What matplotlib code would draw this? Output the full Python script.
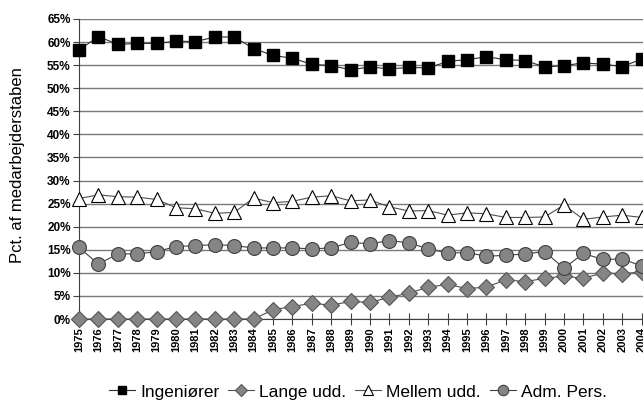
import matplotlib
matplotlib.use("Agg")
import matplotlib.pyplot as plt

years = list(range(1975, 2005))
ingenioerer = [58.3, 61.2, 59.5, 59.7, 59.7, 60.2, 60.1, 61.1, 61.1, 58.6,
               57.1, 56.5, 55.2, 54.9, 54.0, 54.6, 54.2, 54.5, 54.4, 55.8,
               56.2, 56.8, 56.2, 56.0, 54.6, 54.9, 55.5, 55.2, 54.7, 56.3]
lange_udd = [0, 0, 0, 0, 0, 0, 0, 0, 0, 0,
             2.0, 2.7, 3.4, 3.0, 3.8, 3.6, 4.7, 5.6, 6.9, 7.5,
             6.6, 6.9, 8.5, 8.1, 8.8, 9.3, 8.8, 10.0, 9.8, 10.2]
mellem_udd = [26.1, 26.9, 26.5, 26.4, 25.9, 24.1, 23.9, 22.9, 23.1, 26.2,
              25.2, 25.5, 26.4, 26.7, 25.6, 25.8, 24.3, 23.4, 23.5, 22.5,
              23.0, 22.8, 22.0, 22.0, 22.1, 24.7, 21.6, 22.1, 22.5, 22.0]
adm_pers = [15.5, 11.9, 14.1, 14.1, 14.6, 15.7, 15.9, 16.1, 15.9, 15.4,
            15.4, 15.4, 15.2, 15.4, 16.6, 16.3, 17.0, 16.5, 15.2, 14.3,
            14.4, 13.6, 13.8, 14.1, 14.6, 11.0, 14.2, 12.9, 13.0, 11.5]
y_ticks = list(range(0, 70, 5))
labels = ["Ingeniører", "Lange udd.", "Mellem udd.", "Adm. Pers."]

plt.rcParams['font.family'] = ['Liberation Sans', 'DejaVu Sans']

fig = plt.figure(figsize=(6.43, 4.03), dpi=100)
ax = fig.add_axes([79/643, 1-319/403, 1-79/643, 300/403])

line_kw = dict(lw=0.8, clip_on=False)
ax.plot(years, ingenioerer, color='#303030', marker='s', ms=8.5,
        mfc='black', mec='black', label=labels[0], zorder=3, **line_kw)
ax.plot(years, lange_udd, color='#505050', marker='D', ms=8.5,
        mfc='#858585', mec='#555555', mew=0.8, label=labels[1], zorder=4, **line_kw)
ax.plot(years, mellem_udd, color='#505050', marker='^', ms=10.5,
        mfc='white', mec='black', mew=0.8, label=labels[2], zorder=5, **line_kw)
ax.plot(years, adm_pers, color='#404040', marker='o', ms=10,
        mfc='#858585', mec='#404040', mew=0.8, label=labels[3], zorder=6, **line_kw)

ax.set_xlim(1975, 1975 + (643-79)/19.4)
ax.set_ylim(0, 65)
ax.set_yticks(y_ticks)
ax.set_yticklabels([f"{v}%" for v in y_ticks], fontsize=8.5, fontweight='bold')
ax.set_xticks(years)
ax.set_xticklabels([str(y) for y in years], rotation=90, fontsize=8, fontweight='bold')
ax.tick_params(axis='x', direction='inout', length=8, width=0.8, color='#404040', pad=2)
ax.tick_params(axis='y', direction='out', length=4, width=0.8, color='#404040', pad=2)

ax.yaxis.grid(True, color='#7a7a7a', lw=1)
ax.set_axisbelow(True)
for s in ['top', 'right']:
    ax.spines[s].set_visible(False)
ax.spines['left'].set_color('#404040')
ax.spines['bottom'].set_color('#404040')
ax.spines['left'].set_linewidth(0.8)
ax.spines['bottom'].set_linewidth(0.8)

fig.text(18/643, 1-165/403, "Pct. af medarbejderstaben", rotation=90,
         fontsize=12, ha='center', va='center')

fig.legend(loc='center', bbox_to_anchor=(358/643, 1-392/403), ncol=4,
           frameon=False, fontsize=12.5, handlelength=1.5, handletextpad=0.3,
           columnspacing=0.5, borderpad=0, markerscale=0.75)

fig.savefig("out.png", dpi=100)
